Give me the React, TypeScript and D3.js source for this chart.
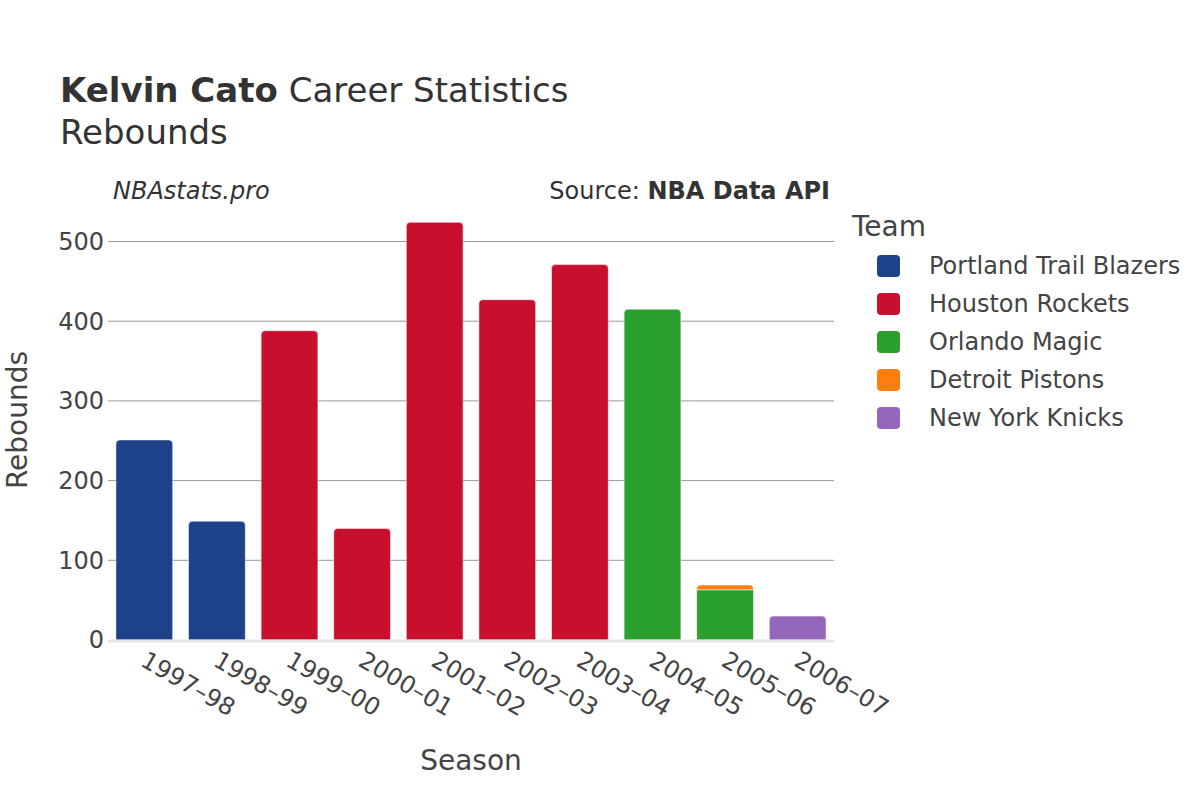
import React from "react";
import * as d3 from "d3";

const seasons = ["1997–98", "1998–99", "1999–00", "2000–01", "2001–02", "2002–03", "2003–04", "2004–05", "2005–06", "2006–07"];
const teams = ["Portland Trail Blazers", "Houston Rockets", "Orlando Magic", "Detroit Pistons", "New York Knicks"];
const teamColors = ["#1d428a", "#c8102e", "#2ca02c", "#ff7f0e", "#9467bd"];
const portland = [251, 149, 0, 0, 0, 0, 0, 0, 0, 0];
const houston = [0, 0, 388, 140, 524, 427, 471, 0, 0, 0];
const orlando = [0, 0, 0, 0, 0, 0, 0, 415, 63, 0];
const detroit = [0, 0, 0, 0, 0, 0, 0, 0, 6, 0];
const knicks = [0, 0, 0, 0, 0, 0, 0, 0, 0, 30];
const yTicks = [0, 100, 200, 300, 400, 500];

const FONT = "'DejaVu Sans', sans-serif";
const TXT = "#444";

function topRounded(x: number, y0: number, y1: number, w: number, r: number) {
  const h = y0 - y1;
  const rr = Math.min(r, h, w / 2);
  return `M${x},${y0}L${x},${y1 + rr}Q${x},${y1} ${x + rr},${y1}L${x + w - rr},${y1}Q${x + w},${y1} ${x + w},${y1 + rr}L${x + w},${y0}Z`;
}

export default function App() {
  const left = 108, right = 834;
  const x = d3.scaleBand<string>().domain(seasons).range([left, right]).paddingInner(0.218).paddingOuter(0.109);
  const y = d3.scaleLinear().domain([0, 500]).range([640, 241.5]);
  const series = [portland, houston, orlando, detroit, knicks];
  const rows = seasons.map((s, i) => {
    const o: any = { season: s };
    teams.forEach((t, k) => (o[t] = series[k][i]));
    return o;
  });
  const stacked = d3.stack<any>().keys(teams)(rows);
  const topIdx = seasons.map((_, i) => {
    let idx = -1;
    teams.forEach((_, k) => { if (series[k][i] > 0) idx = k; });
    return idx;
  });

  return (
    <svg width={1200} height={800} style={{ display: "block", position: "absolute", left: 0, top: 0, fontFamily: FONT }}>
      <rect width={1200} height={800} fill="#fff" />
      <text x={60} y={102} fontSize={34} fill="#333">
        <tspan fontWeight="bold">Kelvin Cato</tspan>
        <tspan> Career Statistics</tspan>
      </text>
      <text x={60} y={144} fontSize={34} fill="#333">Rebounds</text>
      <text x={113} y={199} fontSize={24} fontStyle="italic" fill="#333">NBAstats.pro</text>
      <text x={830} y={199} fontSize={24} textAnchor="end" fill="#333">
        Source: <tspan fontWeight="bold">NBA Data API</tspan>
      </text>

      {yTicks.filter(t => t > 0).map(t => (
        <line key={t} x1={left} x2={right} y1={y(t)} y2={y(t)} stroke="#999" strokeWidth={1} />
      ))}
      {yTicks.map(t => (
        <text key={t} x={104} y={y(t)} dy="0.35em" textAnchor="end" fontSize={24} fill={TXT}>{t}</text>
      ))}

      {stacked.map((layer, k) => (
        <g key={teams[k]}>
          {layer.map((d, i) => {
            if (series[k][i] <= 0) return null;
            const bx = x(seasons[i])!;
            const bw = x.bandwidth();
            const y0 = y(d[0]);
            const y1 = y(d[1]);
            const path = topIdx[i] === k
              ? topRounded(bx, y0, y1, bw, 4)
              : `M${bx},${y0}L${bx},${y1}L${bx + bw},${y1}L${bx + bw},${y0}Z`;
            return <path key={i} d={path} fill={teamColors[k]} stroke="#fff" strokeOpacity={0.5} strokeWidth={1} />;
          })}
        </g>
      ))}
      <line x1={left} x2={right} y1={y(0) + 1} y2={y(0) + 1} stroke="#e5e5e5" strokeWidth={3} />

      {seasons.map(s => (
        <text key={s} transform={`translate(${x(s)! + x.bandwidth() / 2 - 5},665) rotate(30)`} fontSize={24} fill={TXT}>{s}</text>
      ))}

      <text x={471} y={770} textAnchor="middle" fontSize={28} fill={TXT}>Season</text>
      <text transform="translate(27,420) rotate(-90)" textAnchor="middle" fontSize={28} fill={TXT}>Rebounds</text>

      <text x={852} y={236} fontSize={28} fill={TXT}>Team</text>
      {teams.map((t, k) => {
        const cy = 266 + k * 38;
        return (
          <g key={t}>
            <rect x={877} y={cy - 11} width={23} height={22} rx={4} fill={teamColors[k]} />
            <text x={929} y={cy} dy="0.35em" fontSize={24} fill={TXT}>{t}</text>
          </g>
        );
      })}
    </svg>
  );
}
